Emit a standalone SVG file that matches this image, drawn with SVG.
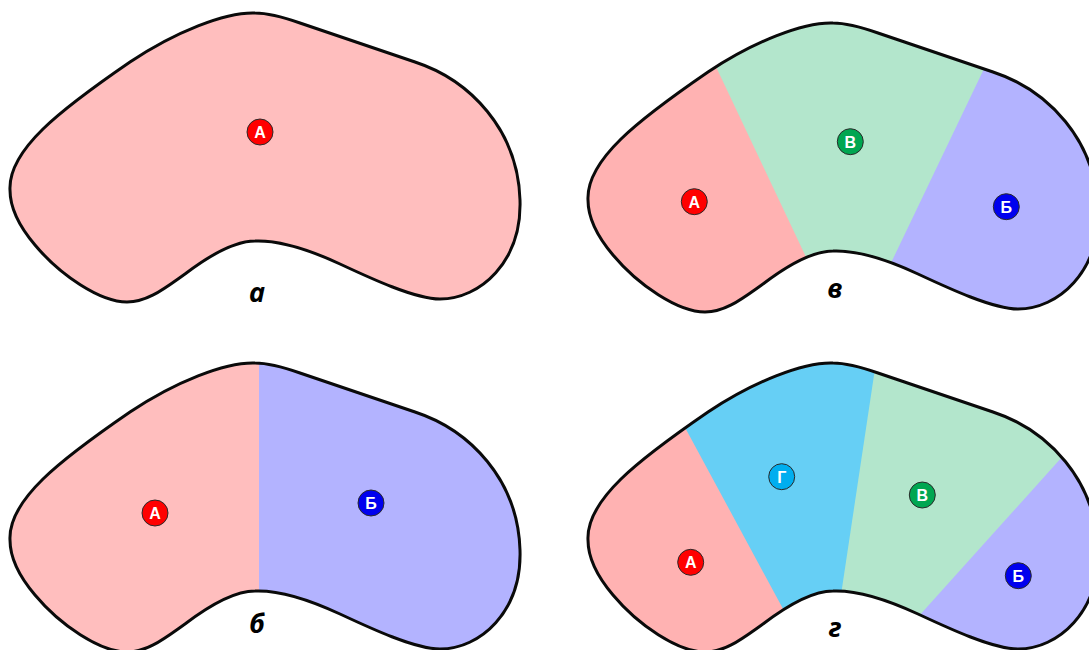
<svg xmlns="http://www.w3.org/2000/svg" xmlns:xlink="http://www.w3.org/1999/xlink" width="1089" height="650" viewBox="0 0 1089 650">
<style>
.outline{fill:none;stroke:#0a0a0a;stroke-width:3;stroke-linejoin:round}
.mk{stroke:#2a2a2a;stroke-width:1}
.mt{font-family:"Liberation Sans",Arial,sans-serif;font-weight:bold;font-size:16px;fill:#fff;text-anchor:middle}
.lbl{font-family:"Noto Sans","DejaVu Sans",sans-serif;font-weight:bold;font-style:italic;font-size:27px;fill:#000;text-anchor:middle}
.pinkA{fill:#ffbebe}
.pink{fill:#ffb2b2}
.green{fill:#b3e6cc}
.blue{fill:#b3b3ff}
.cyan{fill:#66cff5}
</style>
<defs>
<path id="blob" d="M 10,190 C 8,150 60,110 130,62 C 175,32 225,12 255,13 C 268,13 280,16 300,23 L 415,62 C 470,80 518,130 520,200 C 522,262 480,299 440,299 C 415,299 370,278 340,264 C 310,250 280,240 255,241 C 235,241 210,255 185,274 C 165,288 148,302 127,302 C 100,302 60,275 35,245 C 18,225 10,208 10,190 Z"/>
<clipPath id="clip"><use xlink:href="#blob"/></clipPath>
</defs>
<rect width="1089" height="650" fill="#fff"/>

<g id="panel-a">
<use xlink:href="#blob" class="pinkA"/>
<use xlink:href="#blob" class="outline"/>
<g id="a-A"><circle cx="260" cy="132" r="13" fill="#ff0000" class="mk"/><text x="260" y="137.8" class="mt">А</text></g>
<text x="257" y="302" class="lbl" xml:lang="bg" lang="bg">а</text>
</g>

<g id="panel-b" transform="translate(0,350)">
<g clip-path="url(#clip)">
<rect x="-50" y="-50" width="309" height="400" class="pinkA"/>
<rect x="259" y="-50" width="400" height="400" class="blue"/>
</g>
<use xlink:href="#blob" class="outline"/>
<g id="b-A"><circle cx="155" cy="163" r="13" fill="#ff0000" class="mk"/><text x="155" y="168.8" class="mt">А</text></g>
<g id="b-B"><circle cx="371" cy="153" r="13" fill="#0000ee" class="mk"/><text x="371" y="158.8" class="mt">Б</text></g>
<text x="257" y="283" class="lbl" xml:lang="bg" lang="bg">б</text>
</g>

<g id="panel-v" transform="translate(578,10)">
<g clip-path="url(#clip)">
<use xlink:href="#blob" class="green"/>
<polygon points="-50,-50 87.5,-50 276.7,350 -50,350" class="pink"/>
<polygon points="458.1,-50 700,-50 700,350 266.5,350" class="blue"/>
</g>
<use xlink:href="#blob" class="outline"/>
<g id="v-A"><circle cx="116.3" cy="191.7" r="13" fill="#ff0000" class="mk"/><text x="116.3" y="197.5" class="mt">А</text></g>
<g id="v-V"><circle cx="272.3" cy="131.7" r="13" fill="#00a651" class="mk"/><text x="272.3" y="137.5" class="mt">В</text></g>
<g id="v-B"><circle cx="428.3" cy="196.7" r="13" fill="#0000ee" class="mk"/><text x="428.3" y="202.5" class="mt">Б</text></g>
<text x="257" y="288" class="lbl" xml:lang="bg" lang="bg">в</text>
</g>

<g id="panel-g" transform="translate(578,350)">
<g clip-path="url(#clip)">
<use xlink:href="#blob" class="green"/>
<polygon points="-50,-50 307.3,-50 247.2,350 -50,350" class="cyan"/>
<polygon points="-50,-50 38.1,-50 254.3,350 -50,350" class="pink"/>
<polygon points="625.4,-50 700,-50 700,350 265.3,350" class="blue"/>
</g>
<use xlink:href="#blob" class="outline"/>
<g id="g-G"><circle cx="203.7" cy="126.7" r="13" fill="#00aeef" class="mk"/><text x="203.7" y="132.5" class="mt">Г</text></g>
<g id="g-V"><circle cx="344.3" cy="145" r="13" fill="#00a651" class="mk"/><text x="344.3" y="150.8" class="mt">В</text></g>
<g id="g-A"><circle cx="112.7" cy="212.3" r="13" fill="#ff0000" class="mk"/><text x="112.7" y="218.1" class="mt">А</text></g>
<g id="g-B"><circle cx="440.3" cy="225.7" r="13" fill="#0000ee" class="mk"/><text x="440.3" y="231.5" class="mt">Б</text></g>
<text x="257" y="287" class="lbl" xml:lang="bg" lang="bg">г</text>
</g>
</svg>
